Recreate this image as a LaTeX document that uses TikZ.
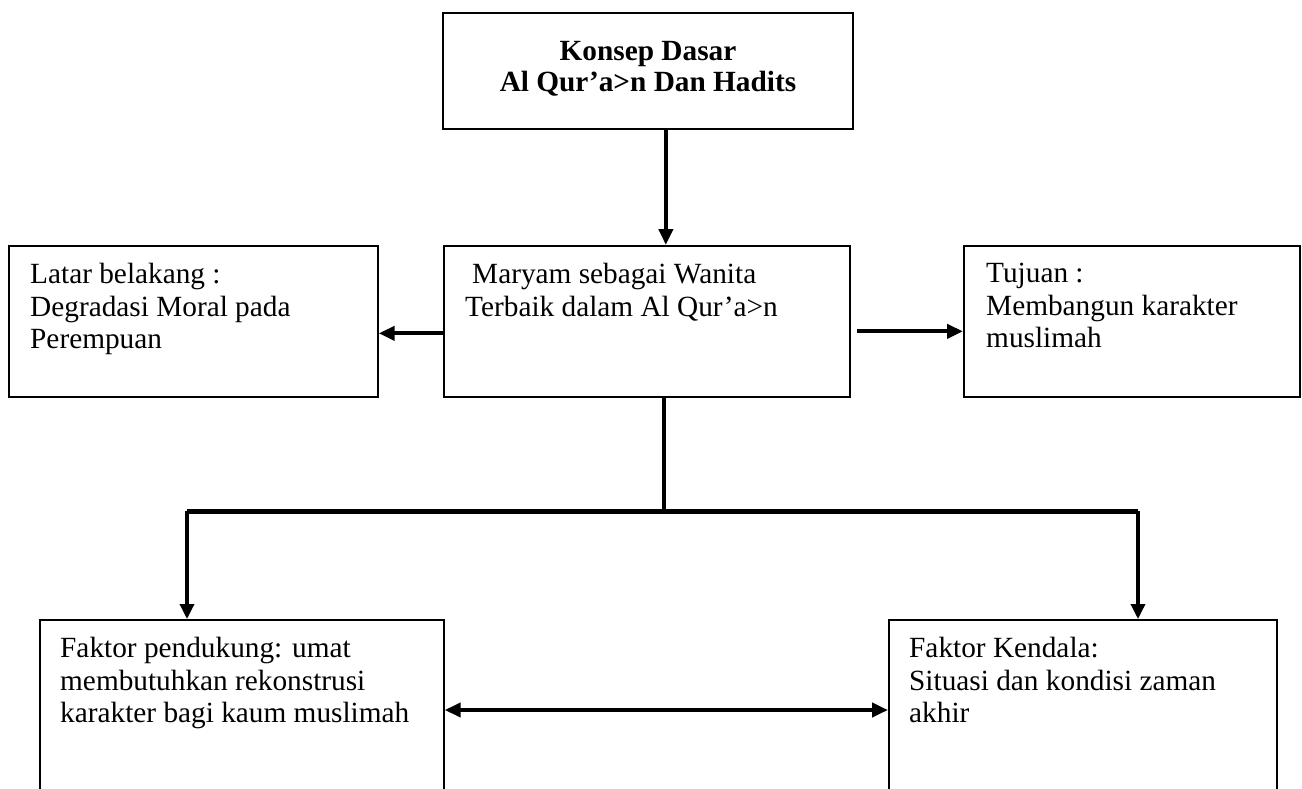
\documentclass[tikz,border=0pt]{standalone}
\usepackage{fontspec}
\setmainfont{Liberation Serif}
\usetikzlibrary{arrows.meta,calc}
\begin{document}
\begin{tikzpicture}[x=1pt,y=-1pt,
  box/.style={draw,line width=1.7pt,inner sep=0pt,anchor=north west},
  txt/.style={inner sep=0pt,anchor=north west,align=left,font=\fontsize{29.3}{32.5}\selectfont},
  arr/.style={line width=4pt,-{Triangle[length=16pt,width=14pt]}},
  arrthin/.style={line width=3.4pt,-{Triangle[length=15pt,width=14pt]}},
]
\useasboundingbox (0,0) rectangle (1302,789);
\clip (0,0) rectangle (1302,789);
% boxes
\node[box,minimum width=410pt,minimum height=116pt] (top) at (442,12) {};
\node[box,minimum width=406pt,minimum height=151pt] (mid) at (443,245) {};
\node[box,minimum width=369pt,minimum height=151pt] (lb) at (8,245) {};
\node[box,minimum width=336pt,minimum height=151pt] (rb) at (963,245) {};
\node[box,minimum width=404pt,minimum height=281pt] (bl) at (39,619) {};
\node[box,minimum width=388pt,minimum height=281pt] (br) at (888,619) {};
% texts
\node[txt,anchor=north,align=center,font=\bfseries\fontsize{29.3}{31}\selectfont] (topt) at (648,41) {Konsep Dasar\\Al Qur’a>n Dan Hadits};
\node[txt] (midt) at (465,263) {\hspace*{7pt}Maryam sebagai Wanita\\Terbaik dalam Al Qur’a>n};
\node[txt] (lbt) at (30,263) {Latar belakang :\\Degradasi Moral pada\\Perempuan};
\node[txt] (rbt) at (986,263) {Tujuan :\\Membangun karakter\\muslimah};
\node[txt] (blt) at (60,637) {Faktor pendukung: umat\\membutuhkan rekonstrusi\\karakter bagi kaum muslimah};
\node[txt] (brt) at (909,637) {Faktor Kendala:\\Situasi dan kondisi zaman\\akhir};
% connectors
\draw[arr] ([xshift=18pt]top.south) -- ([xshift=18pt]top.south |- mid.north);
\draw[arr] ([yshift=-12pt]mid.west) -- ([yshift=-12pt]mid.west -| lb.east);
\draw[arr] ([shift={(6pt,-10pt)}]mid.east) -- ([yshift=-10pt]mid.east -| rb.west);
\coordinate (bar) at (663,511);
\coordinate (barL) at (187,511);
\coordinate (barR) at (1138,511);
\draw[line width=4pt] ([xshift=17pt]mid.south) -- ([xshift=17pt]mid.south |- bar);
\draw[line width=5pt] (barL) -- (barR);
\draw[arrthin] (barL) -- (barL |- bl.north);
\draw[arrthin] (barR) -- (barR |- br.north);
\draw[line width=4pt,{Triangle[length=16pt,width=14pt]}-{Triangle[length=16pt,width=14pt]}]
  ([yshift=-91pt]bl.north east) -- ([yshift=-91pt]bl.north east -| br.west);
\end{tikzpicture}
\end{document}
